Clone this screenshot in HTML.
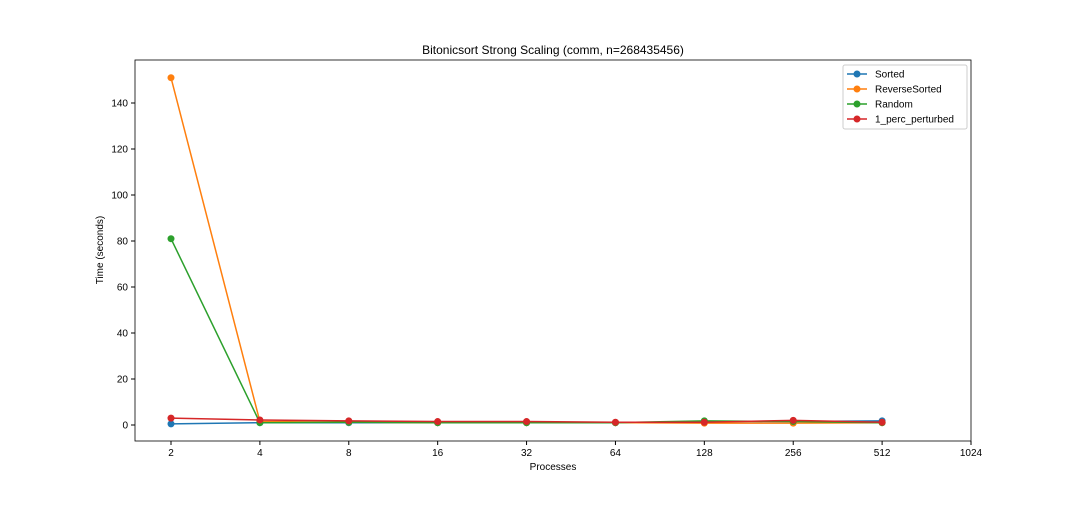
<!DOCTYPE html>
<html><head><meta charset="utf-8"><style>body{margin:0;background:#fff;font-family:"Liberation Sans",sans-serif}</style></head>
<body>
<svg id="c" width="1080" height="504" xmlns="http://www.w3.org/2000/svg" font-family="Liberation Sans, DejaVu Sans, sans-serif"></svg>
<script>
const procs=[2,4,8,16,32,64,128,256,512];
const xTicks=[2,4,8,16,32,64,128,256,512,1024];
const yTicks=[0,20,40,60,80,100,120,140];
const sorted=[0.5,1,1,1,1,1,1.5,1.5,1.8];
const reverseSorted=[151,1.5,1.2,1,1,1,0.8,0.8,1];
const random=[81,1,1.2,1,1,1,1.8,1.5,1];
const perturbed=[3,2.2,1.8,1.5,1.5,1.2,1.2,2,1.2];
const seriesNames=["Sorted","ReverseSorted","Random","1_perc_perturbed"];
const colors=["#1f77b4","#ff7f0e","#2ca02c","#d62728"];
const L=135,R=971,T=60,B=441;
const x=v=>171+Math.log2(v/2)*(800/9);
const y=v=>425-v*(322/140);
const s=document.getElementById('c');const NS="http://www.w3.org/2000/svg";
function mk(t,a,p){const e=document.createElementNS(NS,t);for(const k in a)e.setAttribute(k,a[k]);(p||s).appendChild(e);return e;}
const title=mk('text',{x:553,y:54,'text-anchor':'middle','font-size':12});title.textContent="Bitonicsort Strong Scaling (comm, n=268435456)";


xTicks.forEach(v=>{mk('line',{x1:x(v),x2:x(v),y1:B,y2:B+4,stroke:'#000'});const t=mk('text',{x:x(v),y:B+15,'text-anchor':'middle','font-size':10});t.textContent=v;

});
yTicks.forEach(v=>{mk('line',{x1:L-4,x2:L,y1:y(v),y2:y(v),stroke:'#000'});const t=mk('text',{x:L-7,y:y(v)+3.5,'text-anchor':'end','font-size':10});t.textContent=v;

});
const xl=mk('text',{x:553,y:470,'text-anchor':'middle','font-size':10});xl.textContent="Processes";


const yl=mk('text',{x:103,y:250,'text-anchor':'middle','font-size':10,transform:'rotate(-90 103 250)'});yl.textContent="Time (seconds)";


[sorted,reverseSorted,random,perturbed].forEach((d,i)=>{
 const g=mk('g',{});
 
 
 mk('polyline',{points:d.map((v,j)=>x(procs[j])+','+y(v)).join(' '),fill:'none',stroke:colors[i],'stroke-width':1.5},g);
 d.forEach((v,j)=>{const c=mk('circle',{cx:x(procs[j]),cy:y(v),r:3.5,fill:colors[i]},g);
 
 });
});
mk('rect',{x:L,y:T,width:R-L,height:B-T,fill:'none',stroke:'#000','stroke-width':0.8});
const lg=mk('g',{});


mk('rect',{x:843,y:65,width:124,height:64,fill:'#fff',stroke:'#ccc',rx:2},lg);
seriesNames.forEach((n,i)=>{const yy=74+i*15;
 mk('line',{x1:847,x2:867,y1:yy,y2:yy,stroke:colors[i],'stroke-width':1.5},lg);
 mk('circle',{cx:857,cy:yy,r:3.5,fill:colors[i]},lg);
 const t=mk('text',{x:875,y:yy+3.5,'font-size':10},lg);t.textContent=n;
 
 });
</script>
</body></html>
